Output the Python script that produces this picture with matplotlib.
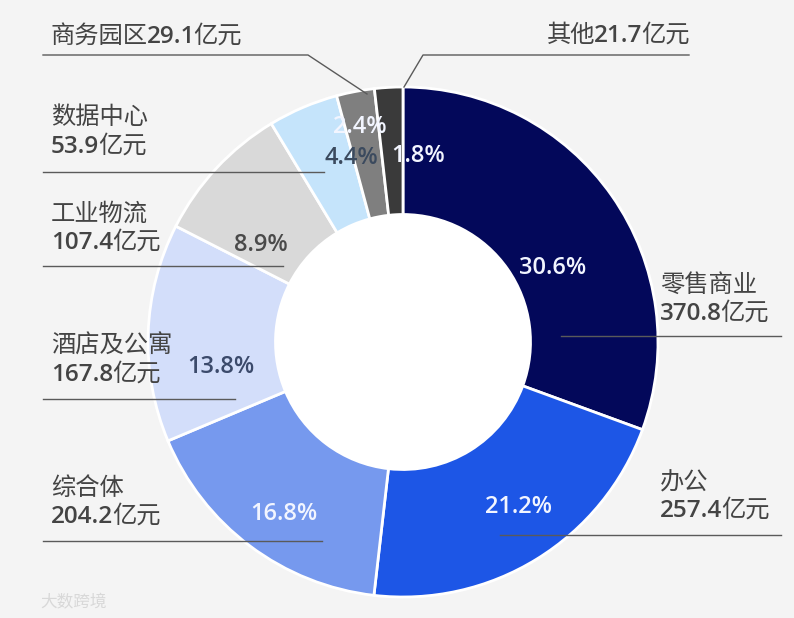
import matplotlib
matplotlib.use("Agg")
import matplotlib.pyplot as plt
from matplotlib.patches import Circle
import numpy as np

plt.rcParams['font.family'] = ['Open Sans', 'Noto Sans CJK SC', 'DejaVu Sans']

# data
names = ["零售商业", "办公", "综合体", "酒店及公寓", "工业物流", "数据中心", "商务园区", "其他"]
values = [370.8, 257.4, 204.2, 167.8, 107.4, 53.9, 29.1, 21.7]
colors = ["#03085a", "#1d56e6", "#7699ee", "#d3defa", "#d9d9d9", "#c5e4fb", "#7f7f7f", "#3a3a3a"]
pct_colors = ["#f2f5ff", "#f2f5ff", "#f2f5ff", "#3b4a6b", "#4a4a4a", "#3b4a5e", "#f2f5ff", "#f2f5ff"]

# layout (pixel positions in the 794x618 picture), centre of pie at (403, 342), radius 255
CX, CY, R = 403, 342, 255
W, H = 794, 618
pct_rad = [0.655, 0.79, 0.82, 0.72, 0.675, 0.75, 0.86, 0.73]
pct_dang = [-8.6, 3.3, 2.0, 9.8, 8.7, -7.4, 0.6, -8.0]
# label: (x, y name line, y value line or None for one-line labels)
label_pos = [(660, 286, 314), (660, 483, 511), (51, 489, 517), (51, 347, 375),
             (51, 215, 243), (51, 118, 147), (51, 37, None), (547, 36, None)]
leader_lines = [[(561, 336), (781, 336)],
                [(500, 535), (781, 535)],
                [(43, 541), (322, 541)],
                [(43, 399), (235, 399)],
                [(43, 266), (283, 266)],
                [(43, 172), (324, 172)],
                [(43, 55), (308, 55), (367, 94)],
                [(689, 55), (423, 55), (404, 87)]]


def px(x, y):
    return (x - CX) / R, (CY - y) / R


fig = plt.figure(figsize=(7.94, 6.18), dpi=100, facecolor="#f4f4f4")
ax = fig.add_axes([0, 0, 1, 1])
ax.set_facecolor("#f4f4f4")

wedges, _ = ax.pie(values, colors=colors, startangle=90, counterclock=False, radius=1,
                   wedgeprops=dict(width=0.5, edgecolor="white", linewidth=2))
ax.add_patch(Circle((0, 0), 0.5, facecolor="white", edgecolor="none", zorder=2))

x0, y0 = px(0, H)
x1, y1 = px(W, 0)
ax.set_xlim(x0, x1)
ax.set_ylim(y0, y1)
ax.set_aspect("auto")
ax.axis("off")

total = sum(values)
for i, w in enumerate(wedges):
    ang = np.deg2rad((w.theta1 + w.theta2) / 2 + pct_dang[i])
    r = pct_rad[i]
    ax.text(r * np.cos(ang), r * np.sin(ang), f"{values[i] / total * 100:.1f}%",
            ha="center", va="center", fontsize=17, color=pct_colors[i],
            fontweight="semibold", zorder=4)

# leader lines
for pts in leader_lines:
    xs, ys = zip(*[px(a, b) for a, b in pts])
    ax.plot(xs, ys, color="#5a5a5a", lw=1, zorder=3)

tc = "#444444"
fs = 17.5


def chain(x, y, parts):
    prev = None
    for s, wgt in parts:
        if prev is None:
            prev = ax.text(x, y, s, ha="left", va="center", fontsize=fs, color=tc,
                           fontweight=wgt, zorder=4)
        else:
            prev = ax.annotate(s, xy=(1, 0), xycoords=prev, xytext=(-1, 0),
                               textcoords="offset points", ha="left", va="bottom",
                               fontsize=fs, color=tc, fontweight=wgt, zorder=4)


for i, (lx, ly1, ly2) in enumerate(label_pos):
    val = f"{values[i]:.1f}"
    if ly2 is None:
        chain(*px(lx, ly1), [(names[i], "normal"), (val, "semibold"), ("亿元", "normal")])
    else:
        chain(*px(lx, ly1), [(names[i], "normal")])
        chain(*px(lx, ly2), [(val, "semibold"), ("亿元", "normal")])

# watermark
ax.text(*px(40, 603), "大数跨境", ha="left", va="center", fontsize=12, color="#d8d8d8", zorder=1)

fig.savefig("out.png", dpi=100, facecolor=fig.get_facecolor())
